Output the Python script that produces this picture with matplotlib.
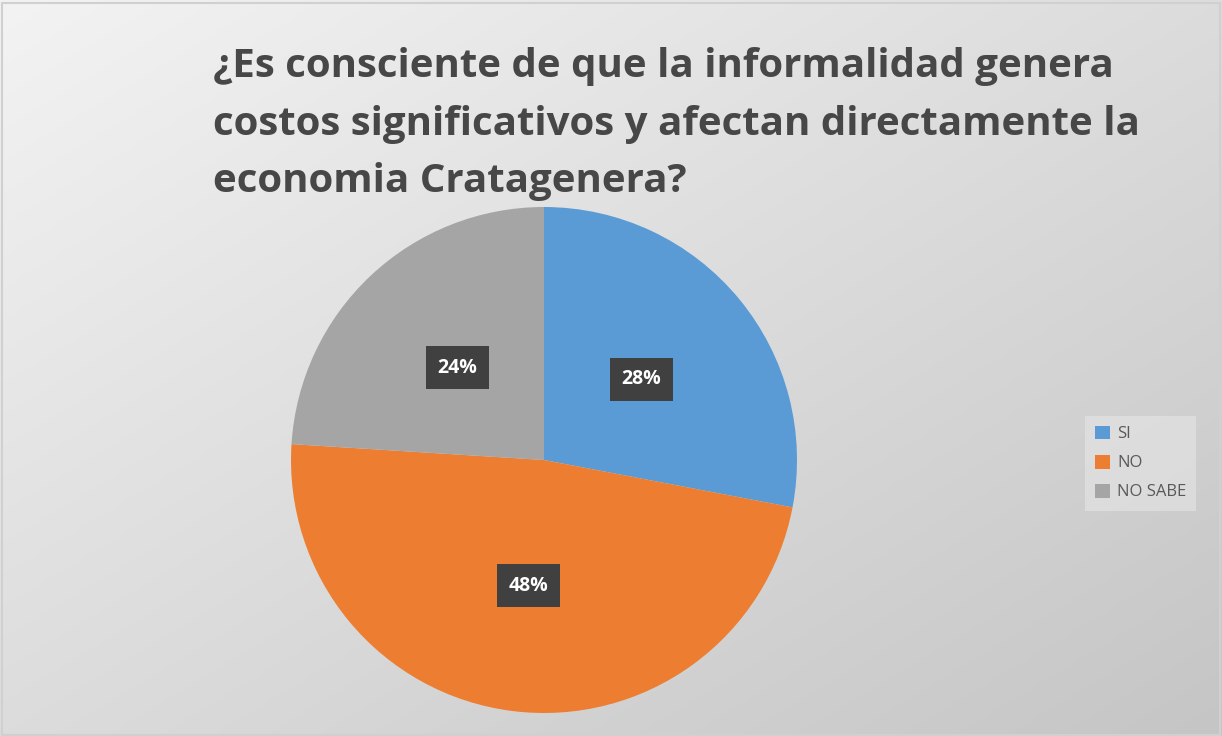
import numpy as np
import matplotlib.pyplot as plt
from matplotlib.patches import Rectangle

# Data
categories = ['SI', 'NO', 'NO SABE']
values = [28, 48, 24]
colors = ['#5b9bd5', '#ed7d31', '#a5a5a5']
title = ('¿Es consciente de que la informalidad genera\n'
         'costos significativos y afectan directamente la\n'
         'economia Cratagenera?')

fig = plt.figure(figsize=(12.22, 7.36), dpi=100)

# background gradient, light top-left to grey bottom-right
bg = fig.add_axes([0, 0, 1, 1], zorder=0)
yy, xx = np.mgrid[0:1:200j, 0:1:300j]
level = (243 - 46 * (0.5 * xx + 0.5 * yy)) / 255.0
img = np.dstack([level, level, level])
bg.imshow(img, aspect='auto', extent=[0, 1, 1, 0], interpolation='bilinear')
bg.set_xlim(0, 1)
bg.set_ylim(1, 0)
bg.axis('off')
bg.add_patch(Rectangle((0.002, 0.004), 0.996, 0.994, fill=False,
                       edgecolor='#d0d0d0', linewidth=1.5))

# pie axes: centre ~ (544, 460) px, radius ~253 px
cx, cy, r = 544, 460, 253
W, H = 1222, 736
ax = fig.add_axes([(cx - r) / W, 1 - (cy + r) / H, 2 * r / W, 2 * r / H], zorder=1)
wedges, texts, autotexts = ax.pie(
    values, colors=colors, startangle=90, counterclock=False,
    autopct='%d%%', pctdistance=0.5,
    wedgeprops=dict(edgecolor='none'))
for t in autotexts:
    t.set_color('white')
    t.set_fontsize(14)
    t.set_fontweight('bold')
    t.set_family(['Open Sans', 'DejaVu Sans'])
    t.set_bbox(dict(boxstyle='square,pad=0.6', facecolor='#404040',
                    edgecolor='none'))
ax.set_xlim(-1, 1)
ax.set_ylim(-1, 1)
ax.set_aspect('equal')

fig.text(213 / W, 1 - 47 / H, title, ha='left', va='top', fontsize=29,
         fontweight='bold', color='#474747', linespacing=1.62,
         family=['Open Sans', 'DejaVu Sans'], zorder=2)

leg = fig.legend(wedges, categories, loc='center left',
                 bbox_to_anchor=(1082 / W, 1 - 463 / H), frameon=True,
                 handlelength=0.9, handleheight=0.9,
                 handletextpad=0.4, labelspacing=0.75, borderpad=0.3,
                 prop={'family': ['Open Sans', 'DejaVu Sans'], 'size': 12})
leg.get_frame().set_facecolor('#e6e6e6')
leg.get_frame().set_alpha(0.6)
leg.get_frame().set_edgecolor('none')
leg.get_frame().set_boxstyle('square')
for txt in leg.get_texts():
    txt.set_color('#595959')

fig.savefig('out.png', dpi=100)
